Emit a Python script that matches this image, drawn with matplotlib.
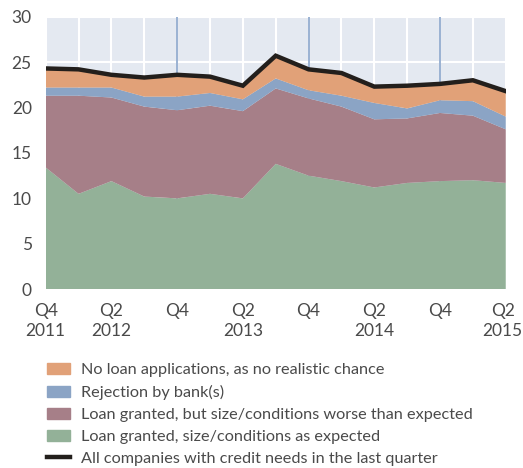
import numpy as np
import matplotlib

matplotlib.use('Agg')
import matplotlib.pyplot as plt
import matplotlib.transforms as mtransforms
from matplotlib.patches import Patch
from matplotlib.lines import Line2D

plt.rcParams['font.family'] = ['Lato', 'DejaVu Sans']

# quarters Q4 2011 ... Q2 2015
quarters = ['Q4 2011', 'Q1 2012', 'Q2 2012', 'Q3 2012', 'Q4 2012', 'Q1 2013', 'Q2 2013', 'Q3 2013',
            'Q4 2013', 'Q1 2014', 'Q2 2014', 'Q3 2014', 'Q4 2014', 'Q1 2015', 'Q2 2015']
tick_labels = ['Q4\n2011', '', 'Q2\n2012', '', 'Q4', '', 'Q2\n2013', '',
               'Q4', '', 'Q2\n2014', '', 'Q4', '', 'Q2\n2015']

# shares in percent, stacked bottom to top
granted_ok = [13.4, 10.5, 11.9, 10.2, 10.0, 10.5, 10.0, 13.8, 12.5, 11.9, 11.2, 11.7, 11.9, 12.0, 11.7]
granted_worse = [7.9, 10.8, 9.2, 9.9, 9.7, 9.7, 9.6, 8.3, 8.5, 8.2, 7.5, 7.1, 7.5, 7.1, 5.9]
rejected = [0.9, 0.9, 1.1, 1.1, 1.5, 1.4, 1.3, 1.1, 0.9, 1.2, 1.8, 1.1, 1.4, 1.6, 1.4]
no_application = [2.1, 2.0, 1.4, 2.1, 2.4, 1.8, 1.5, 2.5, 2.3, 2.5, 1.8, 2.5, 1.8, 2.3, 2.8]
all_companies = [24.3, 24.2, 23.6, 23.3, 23.6, 23.4, 22.4, 25.7, 24.2, 23.8, 22.3, 22.4, 22.6, 23.0, 21.8]

labels = ['No loan applications, as no realistic chance',
          'Rejection by bank(s)',
          'Loan granted, but size/conditions worse than expected',
          'Loan granted, size/conditions as expected',
          'All companies with credit needs in the last quarter']
colors = ['#e1a178', '#8ba4c5', '#a67f88', '#93b198']
text_col = '#4a4a4a'

x = np.arange(len(quarters))

fig = plt.figure(figsize=(5.23, 4.68), dpi=100)
ax = fig.add_axes([0.0874, 0.382, 0.8796, 0.5824])
ax.set_facecolor('#e4e9f1')

ax.stackplot(x, granted_ok, granted_worse, rejected, no_application,
             colors=[colors[3], colors[2], colors[1], colors[0]], linewidth=0, zorder=2)
for q in [4, 8, 12]:
    ax.axvline(q, color='#7e9cc6', lw=1.1, zorder=1.5)
ax.plot(x, all_companies, color='#231f1c', lw=3.2, zorder=3, solid_joinstyle='miter')

ax.set_xlim(0, len(quarters) - 1)
ax.set_ylim(0, 30)
ax.set_xticks(x)
ax.set_xticklabels(tick_labels, linespacing=1.3)
ax.set_yticks(range(0, 31, 5))
ax.grid(True, color='white', lw=1.5, zorder=1)
ax.set_axisbelow(True)
ax.tick_params(length=0, labelsize=12.5, colors=text_col)
ax.tick_params(axis='y', pad=10)
ax.tick_params(axis='x', pad=10)
for s in ax.spines.values():
    s.set_visible(False)

# nudge the last label so "2015" stays inside the canvas
last = ax.get_xticklabels()[-1]
last.set_transform(last.get_transform() + mtransforms.ScaledTranslation(-3 / 100, 0, fig.dpi_scale_trans))

handles = [Patch(color=c) for c in colors] + [Line2D([0], [0], color='#231f1c', lw=3.2)]
leg = fig.legend(handles, labels, loc='upper left', bbox_to_anchor=(0.09, 0.224),
                 frameon=False, fontsize=11.7, handlelength=1.42, handleheight=0.68,
                 handletextpad=0.68, labelspacing=0.47, borderaxespad=0, borderpad=0)
for t in leg.get_texts():
    t.set_color(text_col)

fig.savefig('out.png', dpi=100)
